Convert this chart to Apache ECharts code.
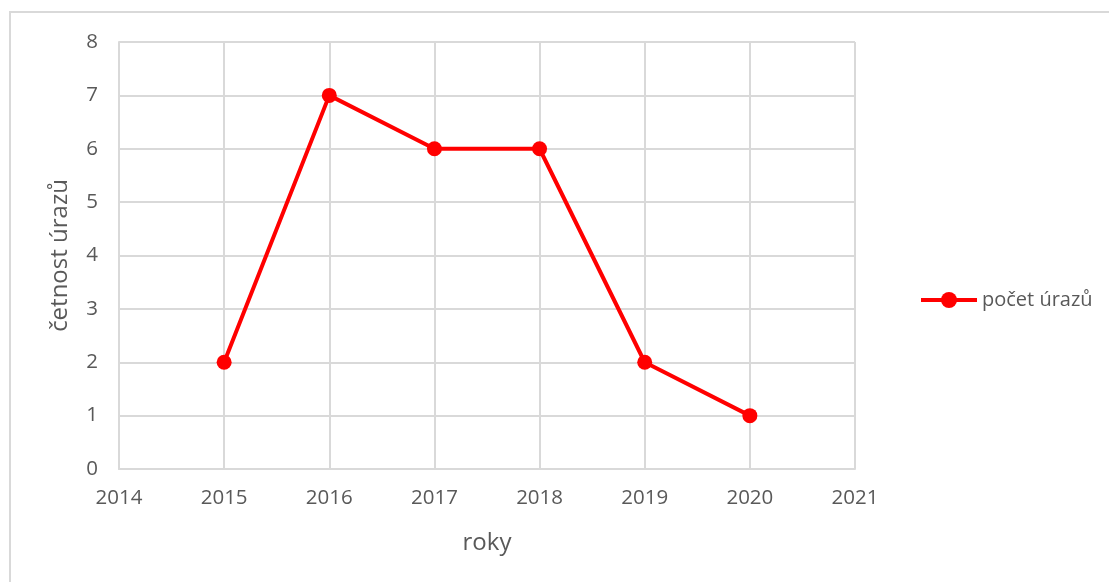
<!DOCTYPE html>
<html>
<head>
<meta charset="utf-8">
<script src="https://cdn.jsdelivr.net/npm/echarts@6/dist/echarts.min.js"></script>
<style>
html,body{margin:0;padding:0;background:#fff;}
#main{width:1109px;height:582px;}
</style>
</head>
<body>
<div id="main"></div>
<script>
// data
var years = [2015, 2016, 2017, 2018, 2019, 2020];
var counts = [2, 7, 6, 6, 2, 1];
var seriesName = 'počet úrazů';

var points = years.map(function (y, i) { return [y, counts[i]]; });

var chart = echarts.init(document.getElementById('main'));
var txt = '#595959';
var grid = '#d9d9d9';
var font = '"Open Sans", "Noto Sans", sans-serif';

chart.setOption({
	animation: false,
	textStyle: { fontFamily: font },
	graphic: [{
		type: 'rect',
		shape: { x: 10, y: 12, width: 1200, height: 700 },
		style: { fill: 'none', stroke: '#d9d9d9', lineWidth: 2 },
		silent: true
	}],
	grid: { left: 119, right: 254, top: 42, bottom: 113, containLabel: false },
	legend: {
		data: [seriesName],
		left: 914,
		top: 285,
		itemWidth: 56,
		itemHeight: 20,
		lineStyle: { width: 4 },
		textStyle: { color: txt, fontSize: 20, fontFamily: font }
	},
	xAxis: {
		type: 'value',
		min: 2014,
		max: 2021,
		interval: 1,
		name: 'roky',
		nameLocation: 'middle',
		nameGap: 62,
		nameTextStyle: { color: txt, fontSize: 24, fontFamily: font },
		axisLine: { show: true, lineStyle: { color: grid, width: 2 } },
		axisTick: { show: false },
		axisLabel: {
			color: txt, fontSize: 20.5, margin: 19, fontFamily: font,
			formatter: function (v) { return String(v); }
		},
		splitLine: { show: true, lineStyle: { color: grid, width: 2 } }
	},
	yAxis: {
		type: 'value',
		min: 0,
		max: 8,
		interval: 1,
		name: 'četnost úrazů',
		nameLocation: 'middle',
		nameRotate: 90,
		nameGap: 47,
		nameTextStyle: { color: txt, fontSize: 24, fontFamily: font },
		axisLine: { show: true, lineStyle: { color: grid, width: 2 } },
		axisTick: { show: false },
		axisLabel: { color: txt, fontSize: 20.5, margin: 21, fontFamily: font },
		splitLine: { show: true, lineStyle: { color: grid, width: 2 } }
	},
	series: [{
		name: seriesName,
		type: 'line',
		data: points,
		symbol: 'circle',
		symbolSize: 15,
		itemStyle: { color: '#ff0000' },
		lineStyle: { color: '#ff0000', width: 4 }
	}]
});
</script>
</body>
</html>
